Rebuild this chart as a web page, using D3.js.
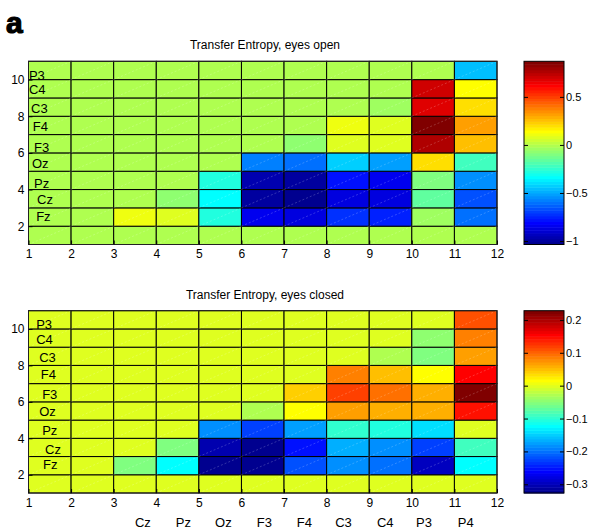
<!DOCTYPE html>
<html><head><meta charset="utf-8">
<script src="https://cdn.jsdelivr.net/npm/d3@7/dist/d3.min.js"></script>
<style>
body{margin:0;background:#fff;}
text{font-family:"Liberation Sans",Arial,sans-serif;fill:#000;}
</style></head>
<body><svg id="chart" width="589" height="529"></svg>
<script>
// ---- data ----
const xTicks = [1,2,3,4,5,6,7,8,9,10,11,12];
const yTicks = [2,4,6,8,10];
const rowLabels = ["Fz","Cz","Pz","Oz","F3","F4","C3","C4","P3"];      // rows y=2..10
const colLabels = ["Cz","Pz","Oz","F3","F4","C3","C4","P3","P4"];      // bottom labels
// rows from y=1 (bottom) to y=10 (top); 11 columns x=1..11
const openRows = [
  [0,0,0,0,0,0,0,0,0,0,0],
  [0,0,0.123,0.066,-0.264,-0.845,-0.88,-0.71,-0.74,-0.024,-0.59],
  [0,0,0,-0.058,-0.35,-1.0,-1.034,-0.88,-0.87,-0.143,-0.65],
  [0,0,0,0,-0.264,-0.972,-1.0,-0.797,-0.84,-0.086,-0.53],
  [0,0,0,0,0,-0.56,-0.617,-0.44,-0.50,0.195,-0.205],
  [0,0,0,0,0,0,-0.058,0.094,0.08,0.772,0.27],
  [0,0,0,0,0,0,0,0.118,0.094,0.85,0.326],
  [0,0,0,0,0,0,0,0,-0.03,0.668,0.193],
  [0,0,0,0,0,0,0,0,0,0.71,0.151],
  [0,0,0,0,0,0,0,0,0,0,-0.465]
];
const closedRows = [
  [0,0,0,0,0,0,0,0,0,0,0],
  [0,0,-0.05,-0.119,-0.322,-0.318,-0.214,-0.18,-0.198,-0.292,-0.119],
  [0,0,0,-0.05,-0.305,-0.318,-0.249,-0.162,-0.18,-0.223,-0.085],
  [0,0,0,0,-0.18,-0.223,-0.172,-0.093,-0.102,-0.136,0],
  [0,0,0,0,0,-0.024,0.0185,0.069,0.061,0.057,0.148],
  [0,0,0,0,0,0,0.043,0.122,0.095,0.057,0.22],
  [0,0,0,0,0,0,0,0.087,0.049,0.0185,0.156],
  [0,0,0,0,0,0,0,0,-0.024,-0.05,0.069],
  [0,0,0,0,0,0,0,0,0,-0.042,0.087],
  [0,0,0,0,0,0,0,0,0,0,0.113]
];
const openClim = [-1.036, 0.87];
const closedClim = [-0.3265, 0.228];
const openCbTicks = [-1,-0.5,0,0.5];
const closedCbTicks = [-0.3,-0.2,-0.1,0,0.1,0.2];
// label positions (data coords) for row labels
const openLabelPos = [[1.18,2.3],[1.2,3.19],[1.13,4.1],[1.08,5.18],[1.13,6.05],[1.1,7.2],[1.06,8.16],[1.01,9.2],[1.01,9.96]];
const closedLabelPos = [[1.34,2.29],[1.39,3.13],[1.32,4.17],[1.25,5.21],[1.32,6.15],[1.29,7.25],[1.25,8.18],[1.18,9.17],[1.18,9.99]];
const colLabelX = [3.5,4.46,5.38,6.36,7.3,8.2,9.18,10.1,11.08];

// ---- jet(64) ----
function jet(f){
  const c = v => Math.max(0, Math.min(1, v));
  const r = c(1.5-Math.abs(4*f-3)), g = c(1.5-Math.abs(4*f-2)), b = c(1.5-Math.abs(4*f-1));
  return d3.rgb(r*255,g*255,b*255).formatHex();
}
function jetIdx(v, clim){
  let i = Math.floor((v-clim[0])/(clim[1]-clim[0])*64);
  i = Math.max(0, Math.min(63, i));
  return jet((i+1)/64);
}

const svg = d3.select("#chart");
svg.append("text").attr("x",6).attr("y",33).attr("font-size",30).attr("font-weight","bold")
  .attr("font-family","Liberation Sans")
  .attr("stroke","#000").attr("stroke-width",1.2).text("a");

function panel(rows, clim, cbTicks, top, bottom, title, labelPos, showCols){
  const x = d3.scaleLinear().domain([1,12]).range([28.5,497]);
  const y = d3.scaleLinear().domain([1,11]).range([bottom,top]);
  const g = svg.append("g");
  const cells = [];
  rows.forEach((r,ri)=>r.forEach((v,ci)=>cells.push({x:ci+1,y:ri+1,v})));
  g.selectAll("rect.cell").data(cells).join("rect").attr("class","cell")
    .attr("x",d=>x(d.x)).attr("y",d=>y(d.y+1))
    .attr("width",d=>x(d.x+1)-x(d.x)).attr("height",d=>y(d.y)-y(d.y+1))
    .attr("fill",d=>jetIdx(d.v,clim)).attr("stroke","#000").attr("stroke-width",1);
  g.selectAll("line.diag").data(cells).join("line").attr("class","diag")
    .attr("x1",d=>x(d.x)).attr("y1",d=>y(d.y)).attr("x2",d=>x(d.x+1)).attr("y2",d=>y(d.y+1))
    .attr("stroke","#fff").attr("stroke-opacity",0.25).attr("stroke-width",0.8).attr("stroke-dasharray","2,2");
  g.append("rect").attr("x",x(1)).attr("y",y(11)).attr("width",x(12)-x(1)).attr("height",y(1)-y(11))
    .attr("fill","none").attr("stroke","#222").attr("stroke-width",1);
  const ax = g.append("g").attr("transform",`translate(0,${bottom})`)
    .call(d3.axisBottom(x).tickValues(xTicks).tickFormat(d3.format("d")).tickSize(-4).tickPadding(5));
  ax.select(".domain").remove();
  ax.selectAll("text").attr("font-size",12).attr("font-family","Liberation Sans");
  const ay = g.append("g").attr("transform",`translate(${x(1)},0)`)
    .call(d3.axisLeft(y).tickValues(yTicks).tickFormat(d3.format("d")).tickSize(-4).tickPadding(4));
  ay.select(".domain").remove();
  ay.selectAll("text").attr("font-size",12).attr("font-family","Liberation Sans");
  g.append("text").attr("x",265).attr("y",top-12).attr("text-anchor","middle")
    .attr("font-size",12).text(title);
  g.selectAll("text.rl").data(rowLabels).join("text").attr("class","rl")
    .attr("x",(d,i)=>x(labelPos[i][0])).attr("y",(d,i)=>y(labelPos[i][1]))
    .attr("font-size",13).text(d=>d);
  if(showCols){
    g.selectAll("text.cl").data(colLabels).join("text").attr("class","cl")
      .attr("x",(d,i)=>x(colLabelX[i])).attr("y",527).attr("font-size",13).text(d=>d);
  }
  // colorbar
  const cb = d3.scaleLinear().domain(clim).range([bottom,top]);
  const levels = d3.range(64);
  const lh = (bottom-top)/64;
  g.selectAll("rect.cb").data(levels).join("rect").attr("class","cb")
    .attr("x",524).attr("width",40).attr("y",i=>bottom-(i+1)*lh).attr("height",lh+0.5)
    .attr("fill",i=>jet((i+1)/64));
  g.append("rect").attr("x",524).attr("y",top).attr("width",40).attr("height",bottom-top)
    .attr("fill","none").attr("stroke","#000");
  const ac = g.append("g").attr("transform","translate(564,0)")
    .call(d3.axisRight(cb).tickValues(cbTicks).tickFormat(d=>d3.format("")(+d.toFixed(1))).tickSize(-4).tickPadding(2));
  ac.select(".domain").remove();
  ac.selectAll("text").attr("font-size",11).attr("font-family","Liberation Sans");
  const al = g.append("g").attr("transform","translate(524,0)")
    .call(d3.axisLeft(cb).tickValues(cbTicks).tickFormat("").tickSize(-4));
  al.select(".domain").remove();
}
panel(openRows, openClim, openCbTicks, 61.3, 244.5, "Transfer Entropy, eyes open", openLabelPos, false);
panel(closedRows, closedClim, closedCbTicks, 310.7, 493, "Transfer Entropy, eyes closed", closedLabelPos, true);
</script></body></html>
